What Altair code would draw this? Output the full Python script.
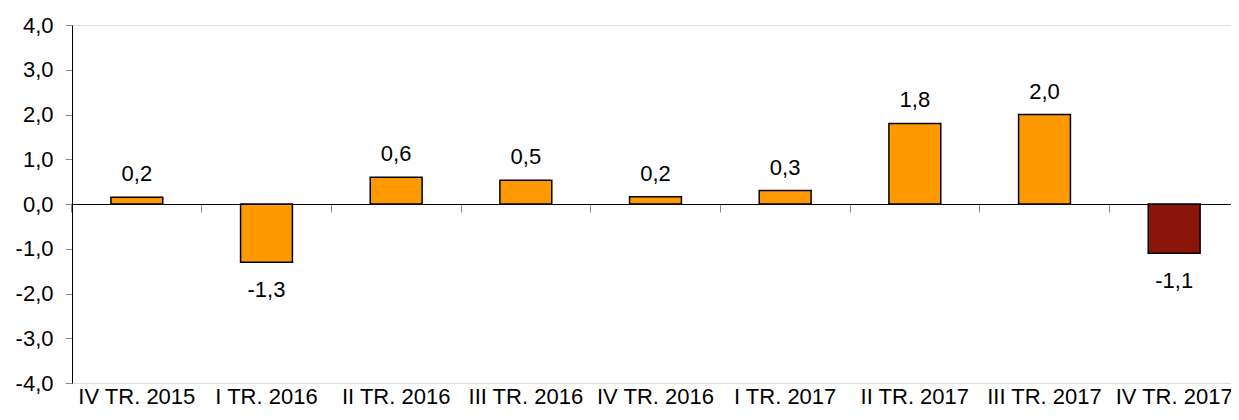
import altair as alt
import pandas as pd

categories = ["IV TR. 2015", "I TR. 2016", "II TR. 2016", "III TR. 2016", "IV TR. 2016",
              "I TR. 2017", "II TR. 2017", "III TR. 2017", "IV TR. 2017"]
values = [0.15, -1.3, 0.6, 0.53, 0.16, 0.3, 1.8, 2.0, -1.1]
labels = ["0,2", "-1,3", "0,6", "0,5", "0,2", "0,3", "1,8", "2,0", "-1,1"]
colors = ["#FF9900"] * 8 + ["#8B150B"]

df = pd.DataFrame({"cat": categories, "val": values, "label": labels, "color": colors})

FONT = "Liberation Sans"
FS = 22

xscale = alt.Scale(paddingInner=0.6, paddingOuter=0.3)
yscale = alt.Scale(domain=[-4, 4], nice=False, zero=False)

yaxis = alt.Axis(
    values=[-4, -3, -2, -1, 0, 1, 2, 3, 4],
    labelExpr="(datum.value < 0 ? '-' : '') + replace(format(abs(datum.value), '.1f'), '.', ',')",
    title=None, grid=False, domainColor="black", domainWidth=1,
    tickColor="#888888", tickSize=7, labelPadding=12,
    labelFont=FONT, labelFontSize=FS, labelColor="black",
)

base = alt.Chart(df)

bars = base.mark_bar(stroke="black", strokeWidth=1.5).encode(
    x=alt.X("cat:N", sort=categories, scale=xscale,
            axis=alt.Axis(title=None, domain=False, ticks=False, labelAngle=0,
                          labelPadding=3, labelFont=FONT, labelFontSize=22,
                          labelColor="black", labelOverlap=False, labelBound=False)),
    y=alt.Y("val:Q", scale=yscale, axis=yaxis),
    color=alt.Color("color:N", scale=None),
)

pos_text = base.transform_filter("datum.val >= 0").mark_text(
    baseline="middle", dy=-23, font=FONT, fontSize=FS, color="black"
).encode(
    x=alt.X("cat:N", sort=categories, scale=xscale,
            axis=alt.Axis(title=None, orient="bottom", offset=-179, labels=False,
                          domain=True, domainColor="black", domainWidth=1,
                          ticks=True, tickColor="#888888", tickSize=8,
                          bandPosition=-0.75, grid=False, zindex=1)),
    y=alt.Y("val:Q", scale=yscale),
    text="label:N",
)

neg_text = base.transform_filter("datum.val < 0").mark_text(
    baseline="middle", dy=28, font=FONT, fontSize=FS, color="black"
).encode(
    x=alt.X("cat:N", sort=categories, scale=xscale, axis=None),
    y=alt.Y("val:Q", scale=yscale),
    text="label:N",
)

chart = alt.layer(bars, pos_text, neg_text).resolve_axis(x="independent").properties(
    width=1167, height=358,
    autosize=alt.AutoSizeParams(type="none"),
    padding={"left": 64, "top": 17, "right": -8, "bottom": 24},
).configure_view(strokeWidth=0).configure(background="white")

chart.save("out.html", embed_options={"renderer": "svg", "actions": False})
